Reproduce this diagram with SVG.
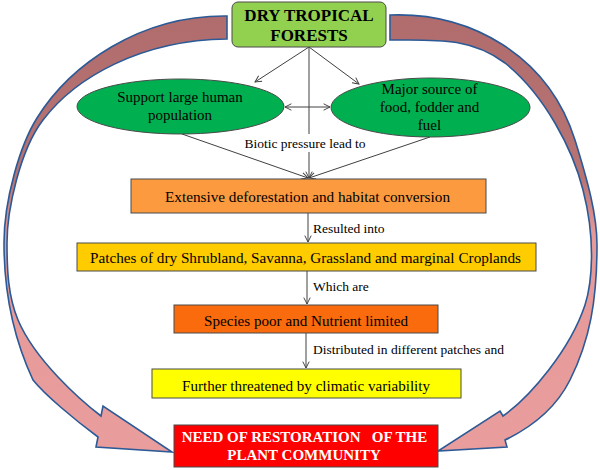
<svg xmlns="http://www.w3.org/2000/svg" width="600" height="470" viewBox="0 0 600 470">
<style>
.t{font-family:"Liberation Serif","Times New Roman",serif;fill:#000;}
.b{font-weight:bold;}
.box{stroke:#4a4a4a;stroke-width:1;}
.ln{stroke:#404040;stroke-width:1;fill:none;}
.big{fill:url(#g);stroke:#2c5a96;stroke-width:1.6;stroke-linejoin:miter;}
</style>
<defs>
<linearGradient id="g" gradientUnits="userSpaceOnUse" x1="0" y1="0" x2="0" y2="470">
<stop offset="0" stop-color="#b06c6c"/>
<stop offset="0.38" stop-color="#b87373"/>
<stop offset="0.5" stop-color="#e59a99"/>
<stop offset="1" stop-color="#e99d9c"/>
</linearGradient>
<marker id="ah" viewBox="0 0 10 10" refX="9" refY="5" markerWidth="8" markerHeight="8" markerUnits="userSpaceOnUse" orient="auto-start-reverse">
<path d="M1,1 L9,5 L1,9" fill="none" stroke="#404040" stroke-width="1.2"/>
</marker>
</defs>
<g id="cycle-arrows">
<path class="big" d="M227,16 C140,15 70,65 37,118 C20,145 4,200 4,243 C4,290 12,335 33,380 C45,395 75,420 98,437 L96,447 L172,452 L103,406 L101,416 C80,400 35,360 18,320 C8,296 7,270 7,243 C7,210 20,150 43,120 C75,78 140,40 227,39 Z"/>
<path class="big" d="M390,15 C470,12 548,55 575,140 C588,182 597,215 597,245 C597,300 590,340 570,380 C555,410 530,428 505,440 L507,447 L438,451 L500,411 L503,416 C530,397 570,350 585,305 C592,283 596,240 583,190 C573,150 545,95 505,63 C470,37 435,40 390,40 Z"/>
</g>
<g id="connectors">
<line class="ln" x1="309" y1="47" x2="255" y2="82" marker-end="url(#ah)"/>
<line class="ln" x1="309" y1="47" x2="359" y2="84" marker-end="url(#ah)"/>
<line class="ln" x1="309" y1="47" x2="309" y2="178" marker-end="url(#ah)"/>
<line class="ln" x1="285" y1="107" x2="330" y2="107" marker-start="url(#ah)" marker-end="url(#ah)"/>
<line class="ln" x1="182" y1="134" x2="308" y2="178" marker-end="url(#ah)"/>
<line class="ln" x1="430" y1="137" x2="309" y2="178" marker-end="url(#ah)"/>
<line class="ln" x1="308" y1="213" x2="308" y2="242" marker-end="url(#ah)"/>
<line class="ln" x1="307" y1="271" x2="307" y2="304" marker-end="url(#ah)"/>
<line class="ln" x1="306" y1="333" x2="306" y2="368" marker-end="url(#ah)"/>
</g>
<g id="label-biotic">
<rect x="243" y="134" width="124" height="18" fill="#fff"/>
<text class="t" x="305" y="147.5" font-size="13.5" text-anchor="middle">Biotic pressure lead to</text>
</g>
<g id="label-resulted"><text class="t" x="313" y="233" font-size="13.5">Resulted into</text></g>
<g id="label-which"><text class="t" x="313" y="291" font-size="13.5">Which are</text></g>
<g id="label-distributed"><text class="t" x="313" y="354" font-size="13.5">Distributed in different patches and</text></g>
<g id="dry-tropical-forests">
<rect class="box" x="232" y="2" width="154" height="45" rx="6" fill="#92d050"/>
<text class="t b" x="309" y="21" font-size="17" text-anchor="middle">DRY TROPICAL</text>
<text class="t b" x="309" y="40.5" font-size="17" text-anchor="middle">FORESTS</text>
</g>
<g id="support-population">
<ellipse class="box" cx="180.5" cy="106.5" rx="103.5" ry="27.5" fill="#00b050"/>
<text class="t" x="180" y="102" font-size="15" text-anchor="middle">Support large human</text>
<text class="t" x="180" y="119.5" font-size="15" text-anchor="middle">population</text>
</g>
<g id="major-source">
<ellipse class="box" cx="430.5" cy="107.5" rx="99.5" ry="29.5" fill="#00b050"/>
<text class="t" x="429.5" y="94" font-size="15" text-anchor="middle">Major source of</text>
<text class="t" x="429.5" y="111.7" font-size="15" text-anchor="middle">food, fodder and</text>
<text class="t" x="429.5" y="130" font-size="15" text-anchor="middle">fuel</text>
</g>
<g id="deforestation">
<rect class="box" x="131" y="179" width="355" height="34" fill="#fb9a3f"/>
<text class="t" x="307.5" y="202" font-size="15.5" text-anchor="middle" textLength="285" lengthAdjust="spacingAndGlyphs">Extensive  deforestation  and  habitat  conversion</text>
</g>
<g id="patches">
<rect class="box" x="77" y="243" width="459" height="28" fill="#ffcc00"/>
<text class="t" x="305.5" y="263" font-size="15.5" text-anchor="middle" textLength="431" lengthAdjust="spacingAndGlyphs">Patches of dry Shrubland, Savanna, Grassland and marginal Croplands</text>
</g>
<g id="species-poor">
<rect class="box" x="174" y="305" width="264" height="28" fill="#f96b0c"/>
<text class="t" x="306" y="325.5" font-size="15.5" text-anchor="middle" textLength="204" lengthAdjust="spacingAndGlyphs">Species poor and Nutrient limited</text>
</g>
<g id="climatic-variability">
<rect class="box" x="152" y="369" width="309" height="29" fill="#ffff00"/>
<text class="t" x="306" y="390.5" font-size="15.5" text-anchor="middle" textLength="248" lengthAdjust="spacingAndGlyphs">Further threatened by climatic variability</text>
</g>
<g id="restoration">
<rect class="box" x="174" y="425" width="264" height="42" fill="#ff0000"/>
<text class="t b" x="304.5" y="441.7" font-size="15" text-anchor="middle" style="fill:#fff" xml:space="preserve">NEED OF RESTORATION   OF THE</text>
<text class="t b" x="304" y="460" font-size="15" text-anchor="middle" style="fill:#fff">PLANT COMMUNITY</text>
</g>
</svg>
